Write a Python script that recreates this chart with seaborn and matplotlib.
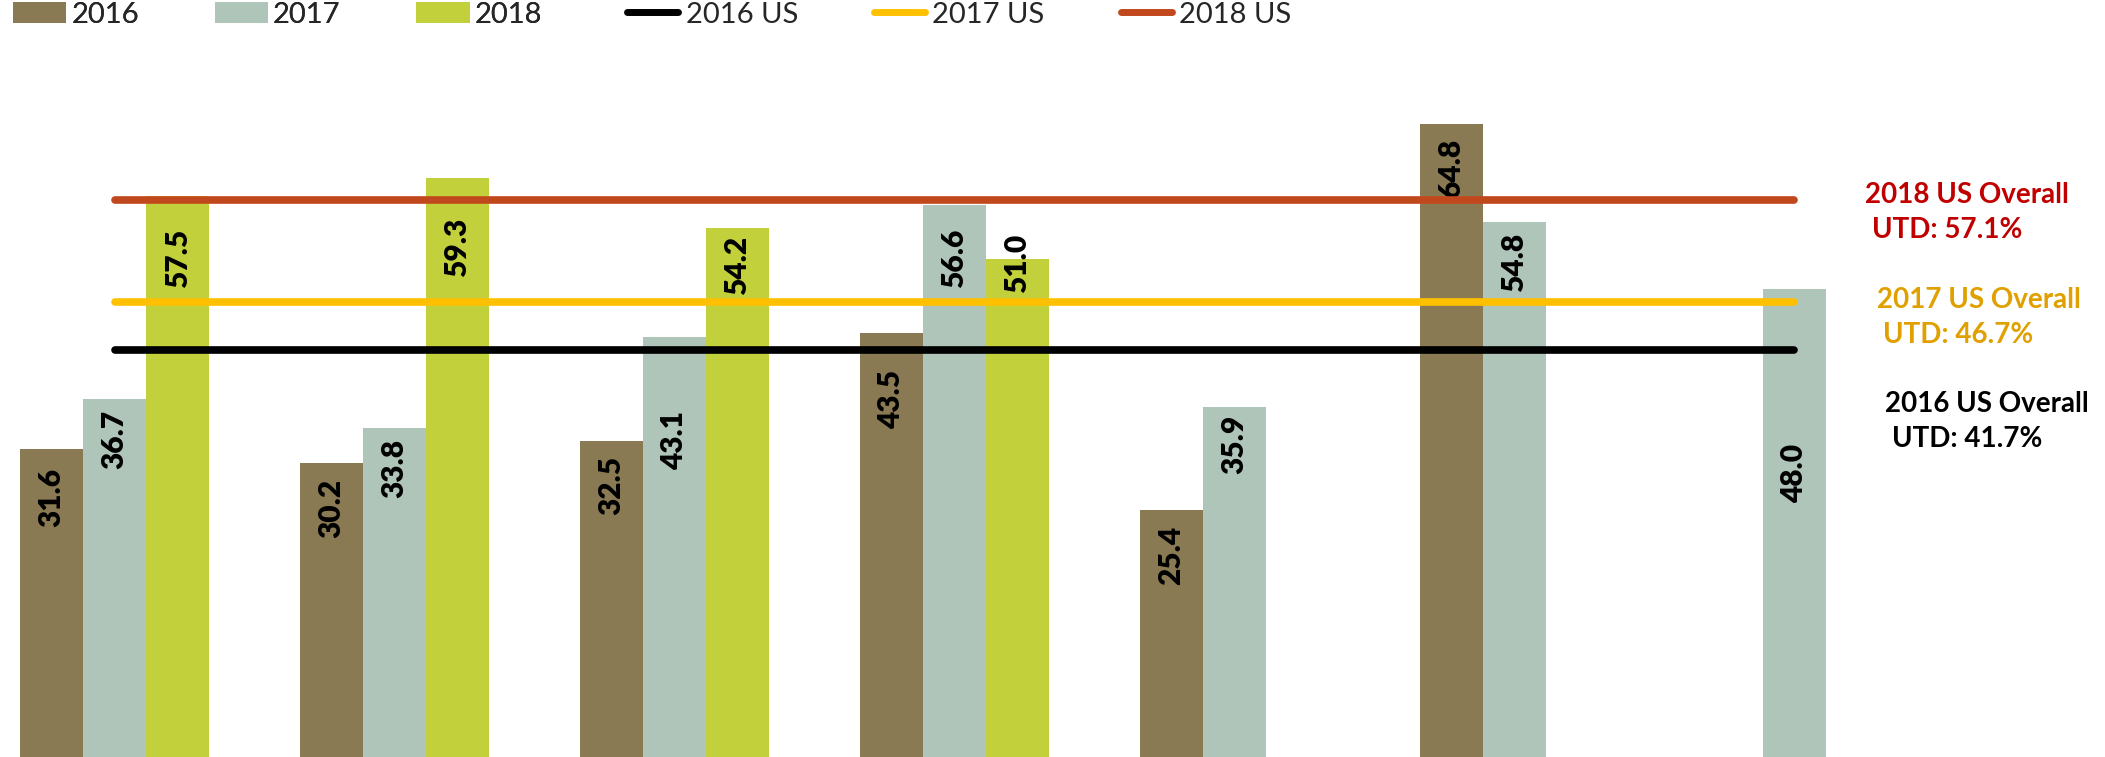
import numpy as np
import pandas as pd
import seaborn as sns
import matplotlib
from matplotlib import pyplot as plt
from matplotlib.patches import Patch
from matplotlib.lines import Line2D
matplotlib.use('Agg')

sns.set_style("white")
plt.rcParams['font.family'] = ['Lato', 'DejaVu Sans']

# data
categories = ["Group 1", "Group 2", "Group 3", "Group 4", "Group 5", "Group 6", "Group 7"]
years = ["2016", "2017", "2018"]
vals_2016 = [31.6, 30.2, 32.5, 43.5, 25.4, 64.8, np.nan]
vals_2017 = [36.7, 33.8, 43.1, 56.6, 35.9, 54.8, 48.0]
vals_2018 = [57.5, 59.3, 54.2, 51.0, np.nan, np.nan, np.nan]
us_overall = [41.7, 46.7, 57.1]

bar_colors = ["#8A7A54", "#B0C5BA", "#C2D03B"]
line_colors = ["#000000", "#FFC000", "#C0481C"]
note_colors = ["#000000", "#E0A000", "#C00000"]

# label offset below bar top (pixels), per year, for the non-missing bars
label_offsets = {
    "2016": [48, 45, 45, 67, 45, 44],
    "2017": [40, 41, 104, 54, 37, 40, 185],
    "2018": [63, 69, 37, 4],
}

df = pd.DataFrame({
    "category": categories * 3,
    "year": [y for y in years for _ in categories],
    "value": vals_2016 + vals_2017 + vals_2018,
})

fig = plt.figure(figsize=(21.05, 7.57), dpi=100)
ax = fig.add_axes([0, 0, 1, 1])

sns.barplot(data=df, x="category", y="value", hue="year", order=categories,
            hue_order=years, palette=bar_colors, width=0.675, saturation=1,
            errorbar=None, dodge=True, legend=False, ax=ax, linewidth=0)

for y, cont in zip(years, ax.containers):
    bars = [b for b in cont if np.isfinite(b.get_height())]
    for b, off in zip(bars, label_offsets[y]):
        h = b.get_height()
        ax.annotate(f"{h:.1f}", (b.get_x() + b.get_width() / 2, h),
                    xytext=(0, -off * 0.72), textcoords="offset points",
                    rotation=90, ha="center", va="center",
                    fontsize=21.5, fontweight="heavy", color="black")

ax.hlines(us_overall, 0, len(categories) - 1, colors=line_colors,
          linewidth=5.5, capstyle="round", zorder=3)

ax.set_xlim(-0.409, 7.109)
ax.set_ylim(0.18, 77.5)
ax.axis("off")

# right-hand notes
note_pos = [(1885, 412, 1892, 447), (1877, 308, 1883, 343), (1865, 203, 1872, 238)]
W, H = 2105, 757
for y, v, c, (x1, y1, x2, y2) in zip(years, us_overall, note_colors, note_pos):
    fig.text(x1 / W, 1 - y1 / H, f"{y} US Overall", color=c, fontsize=20,
             fontweight="bold", va="baseline", ha="left")
    fig.text(x2 / W, 1 - y2 / H, f"UTD: {v}%", color=c, fontsize=20,
             fontweight="bold", va="baseline", ha="left")

# legends: bars and reference lines
bar_handles = [Patch(facecolor=c, edgecolor="none") for c in bar_colors]
leg1 = fig.legend(bar_handles, years, loc="upper left",
                  bbox_to_anchor=(13 / W, 0.998), ncol=3, frameon=False,
                  fontsize=21, handlelength=1.83, handleheight=0.7,
                  handletextpad=0.17, columnspacing=2.6,
                  borderpad=0, borderaxespad=0)
line_handles = [Line2D([0], [1], color=c, lw=5, solid_capstyle="round") for c in line_colors]
fig.legend(line_handles, [f"{y} US" for y in years], loc="upper left",
           bbox_to_anchor=(627 / W, 0.998), ncol=3, frameon=False,
           fontsize=21, handlelength=1.75, handletextpad=0.26,
           columnspacing=2.6, borderpad=0, borderaxespad=0)
fig.add_artist(leg1)

fig.savefig("out.png", dpi=100)
